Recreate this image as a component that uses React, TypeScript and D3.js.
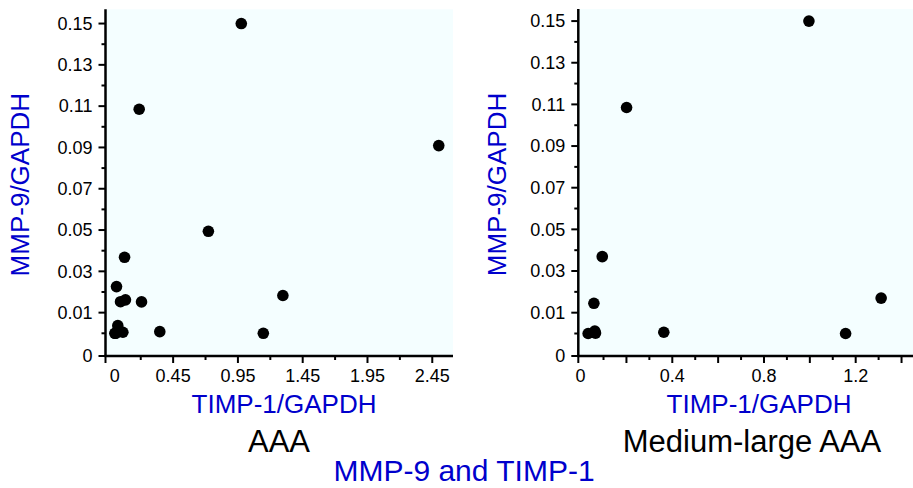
import React from 'react'
import * as d3 from 'd3'

// AAA panel (all patients)
const aaaTimp = [0.976, 0.188, 2.5, 0.722, 0.075, 0.013, 0.044, 0.082, 0.206, 1.297, 0.347, 1.146, 0.023, 0.006, 0.062, 0.0]
const aaaMmp = [0.15, 0.1085, 0.0909, 0.0494, 0.0368, 0.0226, 0.0153, 0.0162, 0.0152, 0.0183, 0.0008, 0.0, 0.0037, 0.0, 0.0005, 0.0]

// Medium-large AAA panel
const mlTimp = [0.996, 0.2006, 0.0945, 0.058, 1.311, 0.363, 1.156, 0.033, 0.062, 0.065]
const mlMmp = [0.15, 0.1085, 0.0369, 0.0145, 0.017, 0.0006, 0.0, 0.0, 0.0012, 0.0002]

const yMajor = [0.01, 0.03, 0.05, 0.07, 0.09, 0.11, 0.13, 0.15]
const yMinor = [0, 0.02, 0.04, 0.06, 0.08, 0.1, 0.12, 0.14]

const aaaXMajor = [0.45, 0.95, 1.45, 1.95, 2.45]
const aaaXMinor = [0.2, 0.7, 1.2, 1.7, 2.2]
const aaaXLabels = [0, 0.45, 0.95, 1.45, 1.95, 2.45]

const mlXMajor = [0.2, 0.4, 0.6, 0.8, 1.0, 1.2, 1.4]
const mlXMinor = [0.1, 0.3, 0.5, 0.7, 0.9, 1.1, 1.3]
const mlXLabels = [0, 0.4, 0.8, 1.2]

const BLUE = '#0000cc'
const FONT = '"Liberation Sans", Arial, sans-serif'

const Panel = ({ left, right, top, bottom, xDomain, yDomain, xs, ys, xMajor, xMinor, xLabels, yTitleX, xTitleX, name, nameX }) => {
    const x = d3.scaleLinear().domain(xDomain).range([left, right])
    const y = d3.scaleLinear().domain(yDomain).range([bottom, top])
    const fmtX = v => (v === 0 ? '0' : d3.format('')(v))

    return (
        <g fontFamily={FONT}>
            <rect x={left} y={top} width={right - left} height={bottom - top} fill='#f4feff' />

            {/* y axis */}
            {yMajor.map(v => (
                <g key={'ym' + v}>
                    <line x1={left - 7} x2={left} y1={y(v)} y2={y(v)} stroke='black' strokeWidth={2} />
                    <text x={left - 13} y={y(v)} dy='0.35em' textAnchor='end' fontSize={18}>{v}</text>
                </g>
            ))}
            {yMinor.map(v => (
                <line key={'yn' + v} x1={left - 4} x2={left} y1={y(v)} y2={y(v)} stroke='black' strokeWidth={2} />
            ))}
            <line x1={left - 7} x2={left} y1={bottom} y2={bottom} stroke='black' strokeWidth={2} />
            <text x={left - 13} y={bottom} dy='0.35em' textAnchor='end' fontSize={18}>0</text>

            {/* x axis */}
            {xMajor.map(v => (
                <line key={'xm' + v} x1={x(v)} x2={x(v)} y1={bottom} y2={bottom + 7} stroke='black' strokeWidth={2} />
            ))}
            {xMinor.map(v => (
                <line key={'xn' + v} x1={x(v)} x2={x(v)} y1={bottom} y2={bottom + 4} stroke='black' strokeWidth={2} />
            ))}
            <line x1={left} x2={left} y1={bottom} y2={bottom + 7} stroke='black' strokeWidth={2} />
            {xLabels.map(v => (
                <text key={'xl' + v} x={x(v)} y={bottom + 26} textAnchor='middle' fontSize={18}>{fmtX(v)}</text>
            ))}

            <line x1={left} x2={left} y1={top} y2={bottom + 1} stroke='black' strokeWidth={2.5} />
            <line x1={left - 1} x2={right} y1={bottom} y2={bottom} stroke='black' strokeWidth={2.5} />

            {xs.map((v, i) => (
                <circle key={i} cx={x(v)} cy={y(ys[i])} r={5.8} fill='black' />
            ))}

            <text transform={`translate(${yTitleX}, ${(top + bottom) / 2 + 2}) rotate(-90)`} textAnchor='middle' fontSize={26} fill={BLUE}>
                MMP-9/GAPDH
            </text>
            <text x={xTitleX} y={413} textAnchor='middle' fontSize={26} fill={BLUE}>TIMP-1/GAPDH</text>
            <text x={nameX} y={452} textAnchor='middle' fontSize={31} fill='black'>{name}</text>
        </g>
    )
}

const App = () => {
    return (
        <svg width={913} height={488} style={{ position: 'absolute', left: 0, top: 0 }}>
            <rect width={913} height={488} fill='white' />
            <Panel
                left={105.5}
                right={453}
                top={9.3}
                bottom={356}
                xDomain={[-0.072, 2.61]}
                yDomain={[-0.011, 0.1569]}
                xs={aaaTimp}
                ys={aaaMmp}
                xMajor={aaaXMajor}
                xMinor={aaaXMinor}
                xLabels={aaaXLabels}
                yTitleX={29}
                xTitleX={284}
                name='AAA'
                nameX={279}
            />
            <Panel
                left={578.3}
                right={913}
                top={9}
                bottom={356}
                xDomain={[-0.01, 1.45]}
                yDomain={[-0.0108, 0.1558]}
                xs={mlTimp}
                ys={mlMmp}
                xMajor={mlXMajor}
                xMinor={mlXMinor}
                xLabels={mlXLabels}
                yTitleX={506}
                xTitleX={759}
                name='Medium-large AAA'
                nameX={752}
            />
            <text x={464} y={481} textAnchor='middle' fontSize={30} fill={BLUE} fontFamily={FONT}>
                MMP-9 and TIMP-1
            </text>
        </svg>
    )
}

export default App
